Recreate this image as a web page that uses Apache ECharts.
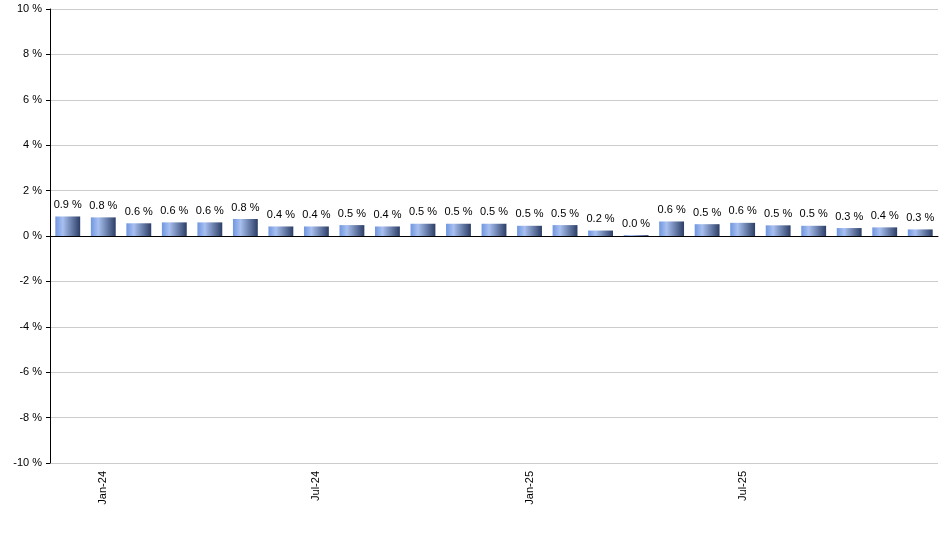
<!DOCTYPE html><html><head><meta charset="utf-8"><script src="https://cdn.jsdelivr.net/npm/echarts@6/dist/echarts.min.js"></script></head><body style="margin:0;background:#fff"><div id="c" style="width:940px;height:550px"></div><script>
const categories=['Dec-23','Jan-24','Feb-24','Mar-24','Apr-24','May-24','Jun-24','Jul-24','Aug-24','Sep-24','Oct-24','Nov-24','Dec-24','Jan-25','Feb-25','Mar-25','Apr-25','May-25','Jun-25','Jul-25','Aug-25','Sep-25','Oct-25','Nov-25','Dec-25'];
const values=[0.86,0.82,0.56,0.6,0.6,0.75,0.42,0.42,0.48,0.42,0.54,0.54,0.54,0.45,0.48,0.24,0.04,0.64,0.52,0.58,0.47,0.45,0.35,0.38,0.29];
const shownLabels=['Jan-24','Jul-24','Jan-25','Jul-25'];
const c=echarts.init(document.getElementById('c'));
c.setOption({animation:false,grid:{left:50,right:2,top:9,bottom:87},
xAxis:{type:'category',data:categories,axisLine:{lineStyle:{color:'#000'}},axisTick:{show:false},
axisLabel:{rotate:90,interval:0,color:'#000',fontSize:11,fontFamily:'Arial',formatter:v=>shownLabels.includes(v)?v:''}},
yAxis:{type:'value',min:-10,max:10,interval:2,axisLine:{show:true,lineStyle:{color:'#000'}},axisTick:{show:true,length:4,lineStyle:{color:'#000'}},
splitLine:{lineStyle:{color:'#ccc'}},axisLabel:{color:'#000',fontSize:11,fontFamily:'Arial',formatter:v=>v+' %'}},
series:[{type:'bar',data:values,barWidth:'70%',
itemStyle:{color:new echarts.graphic.LinearGradient(0,0,1,0,[{offset:0,color:'#6f96e0'},{offset:0.3,color:'#a8c0f0'},{offset:1,color:'#2c3e66'}])},
label:{show:true,position:'top',distance:6,color:'#000',fontSize:11,fontFamily:'Arial',formatter:p=>p.value.toFixed(1)+' %'}}]});
</script></body></html>
